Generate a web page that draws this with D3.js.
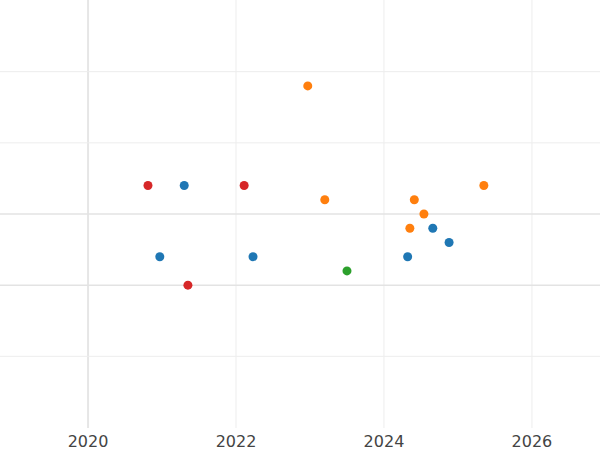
<!DOCTYPE html>
<html><head><meta charset="utf-8">
<script src="https://cdn.jsdelivr.net/npm/d3@7"></script>
<style>body{margin:0;background:#fff}</style></head>
<body><svg id="c" width="600" height="450"></svg>
<script>
const xTicks=[2020,2022,2024,2026];
const yTicks=[-10,-5,0,5,10];
const redX=[2020.81,2022.11,2021.35], redY=[2,2,-5];
const blueX=[2021.30,2020.97,2022.23,2024.32,2024.66,2024.88], blueY=[2,-3,-3,-3,-1,-2];
const orangeX=[2022.97,2023.20,2024.41,2024.54,2024.35,2025.35], orangeY=[9,1,1,0,-1,2];
const greenX=[2023.50], greenY=[-4];
const series=[["#d62728",redX,redY],["#1f77b4",blueX,blueY],["#ff7f0e",orangeX,orangeY],["#2ca02c",greenX,greenY]];
const svg=d3.select("#c");
const x=d3.scaleLinear().domain([2018.81,2026.92]).range([0,600]);
const y=d3.scaleLinear().domain([-15,15]).range([427.5,0.5]);
const g=svg.append("g");
g.selectAll(".v").data(xTicks).join("line").attr("x1",d=>x(d)).attr("x2",d=>x(d)).attr("y1",0).attr("y2",428)
 .attr("stroke",d=>d===2020?"#e6e6e6":"#ededed").attr("stroke-width",d=>d===2020?2:1);
g.selectAll(".h").data(yTicks).join("line").attr("x1",0).attr("x2",600).attr("y1",d=>y(d)).attr("y2",d=>y(d))
 .attr("stroke",d=>(d===0||d===-5)?"#e3e3e3":"#ededed").attr("stroke-width",d=>(d===0||d===-5)?1.5:1);
svg.selectAll(".t").data(xTicks).join("text").attr("x",d=>x(d)).attr("y",447).attr("text-anchor","middle")
 .attr("font-family","DejaVu Sans, sans-serif").attr("font-size",16).attr("fill","#444").text(d=>d);
series.forEach(([c,xs,ys])=>{
 svg.append("g").selectAll("circle").data(xs).join("circle").attr("cx",d=>x(d)).attr("cy",(d,i)=>y(ys[i])).attr("r",4.5).attr("fill",c);
});
</script></body></html>
